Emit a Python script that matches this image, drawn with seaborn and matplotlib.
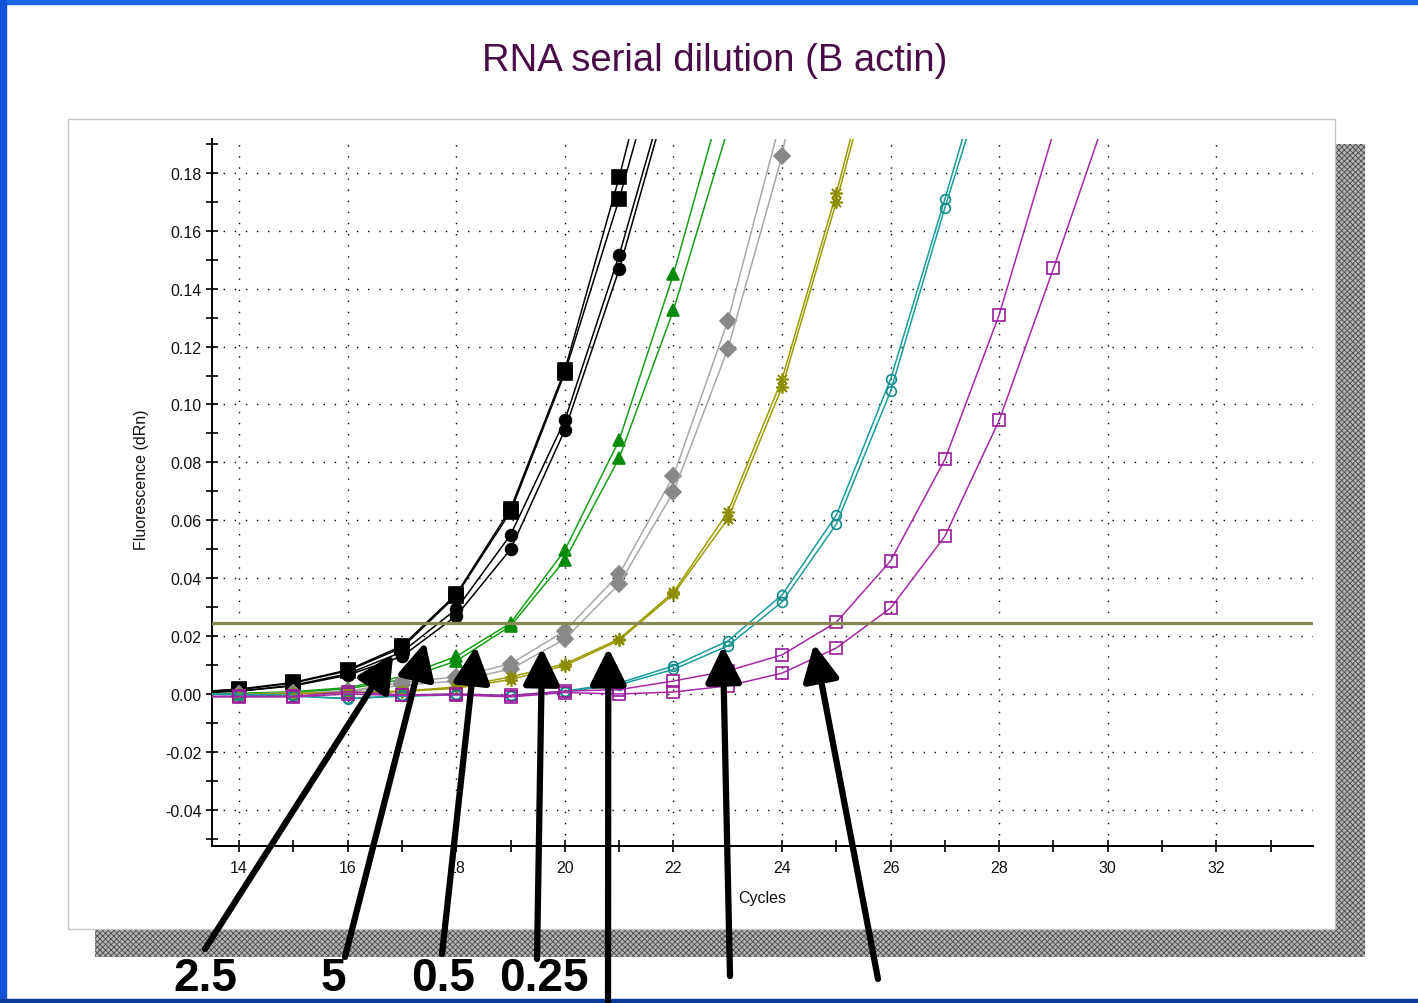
import matplotlib
matplotlib.use("Agg")
import matplotlib.pyplot as plt
import seaborn as sns
from matplotlib.patches import Rectangle
from matplotlib.ticker import MultipleLocator

# amplification curves, cycle 13 onward (last point lies above the plot top)
first_cycle = 13
black_sq_a = [0.0005, 0.0017, 0.004, 0.0083, 0.0166, 0.0345, 0.064, 0.112, 0.1785, 0.252]
black_sq_b = [0.0005, 0.0015, 0.0038, 0.008, 0.016, 0.034, 0.063, 0.111, 0.171, 0.238]
black_ci_a = [0.0003, 0.001, 0.003, 0.007, 0.0145, 0.0293, 0.055, 0.0946, 0.1516, 0.217]
black_ci_b = [0.0003, 0.001, 0.0028, 0.0065, 0.013, 0.027, 0.050, 0.0912, 0.1467, 0.213]
green_a = [0.0, 0.0002, 0.0008, 0.0022, 0.006, 0.013, 0.0245, 0.0497, 0.0877, 0.145, 0.212]
green_b = [0.0, 0.0001, 0.0005, 0.0018, 0.005, 0.0114, 0.0235, 0.0463, 0.0815, 0.1326, 0.195]
gray_a = [0.0, 0.0, 0.0003, 0.001, 0.004, 0.0059, 0.0104, 0.0218, 0.0414, 0.0753, 0.1288, 0.200, 0.31]
gray_b = [0.0, 0.0, 0.0002, 0.0008, 0.003, 0.0045, 0.0086, 0.019, 0.038, 0.0698, 0.1191, 0.1858, 0.29]
olive_a = [0.0, 0.0, 0.0002, 0.0005, 0.001, 0.0024, 0.0059, 0.0104, 0.019, 0.0352, 0.0628, 0.1088, 0.173, 0.245]
olive_b = [0.0, 0.0, 0.0001, 0.0004, 0.0008, 0.002, 0.005, 0.0098, 0.0185, 0.0345, 0.0604, 0.106, 0.170, 0.240]
teal_a = [0.0, 0.0, -0.0005, -0.0017, -0.0005, 0.0, -0.0007, 0.001, 0.0038, 0.0097, 0.0183, 0.0342, 0.0618, 0.1088, 0.171, 0.235]
teal_b = [0.0, -0.0003, -0.0008, -0.0015, -0.0008, -0.0003, -0.0005, 0.0008, 0.0032, 0.0085, 0.0166, 0.0318, 0.0587, 0.1046, 0.168, 0.228]
magenta_a = [-0.0008, -0.0008, -0.0008, 0.0008, -0.0003, 0.0, -0.0005, 0.001, 0.0015, 0.0045, 0.008, 0.0135, 0.0248, 0.046, 0.081, 0.131, 0.194, 0.28]
magenta_b = [-0.001, -0.001, -0.001, 0.0, -0.0005, -0.0003, -0.001, 0.0005, 0.0, 0.0007, 0.0028, 0.0072, 0.0159, 0.0297, 0.0545, 0.0945, 0.147, 0.2015]

threshold = 0.0245

# arrow tips (cycle, dRn) and dilution labels
arrow_tips = [(16.84, 0.0138), (17.43, 0.018), (18.36, 0.0166), (19.58, 0.0159),
              (20.80, 0.0159), (22.91, 0.0166), (24.59, 0.0173)]
dilution_labels = ["2.5", "5", "0.5", "0.25"]

W, H = 1418, 1004


def fx(x):
    return x / W


def fy(y):
    return 1 - y / H


sns.set_theme(style="white")
plt.rcParams["font.family"] = ["Liberation Sans", "DejaVu Sans"]

fig = plt.figure(figsize=(W / 100, H / 100), dpi=100)
fig.patch.set_facecolor("white")

# slide border
fig.add_artist(Rectangle((0, fy(5)), 1, 5 / H, transform=fig.transFigure, color="#1a6ae8", zorder=-5))
fig.add_artist(Rectangle((0, 0), fx(6), 1, transform=fig.transFigure, color="#1252d6", zorder=-5))
fig.add_artist(Rectangle((0, 0), 1, 4 / H, transform=fig.transFigure, color="#0a3a9a", zorder=-5))

# panel shadow + panel
plt.rcParams["hatch.linewidth"] = 0.6
for (x0, y0, x1, y1) in [(1335, 145, 1365, 958), (95, 930, 1365, 958)]:
    fig.add_artist(Rectangle((fx(x0), fy(y1)), fx(x1 - x0), (y1 - y0) / H, transform=fig.transFigure,
                             facecolor="#b4b4b4", edgecolor="#4a4a4a", hatch="xxxxxx", lw=0, zorder=-4))
fig.add_artist(Rectangle((fx(68), fy(930)), fx(1335 - 68), (930 - 120) / H, transform=fig.transFigure,
                         facecolor="white", edgecolor="#c4c4c4", lw=1.0, zorder=-3))

ax = fig.add_axes([fx(212), fy(847), fx(1313 - 212), (847 - 140) / H])
ax.set_facecolor("none")

curves = [
    (black_sq_a, "black", "black", "s", 10, "black"),
    (black_sq_b, "black", "black", "s", 10, "black"),
    (black_ci_a, "black", "black", "o", 8.5, "black"),
    (black_ci_b, "black", "black", "o", 8.5, "black"),
    (green_a, "#16a016", "#0a8a0a", "^", 8.5, "#0a8a0a"),
    (green_b, "#16a016", "#0a8a0a", "^", 8.5, "#0a8a0a"),
    (gray_a, "#a8a8a8", "#888888", "D", 8, "#888888"),
    (gray_b, "#a8a8a8", "#888888", "D", 8, "#888888"),
    (olive_a, "#9c9c00", "#8c8c00", (8, 2, 0), 9, "#8c8c00"),
    (olive_b, "#9c9c00", "#8c8c00", (8, 2, 0), 9, "#8c8c00"),
    (teal_a, "#1a9c9c", "#128a8a", "o", 7, "none"),
    (teal_b, "#1a9c9c", "#128a8a", "o", 7, "none"),
    (magenta_a, "#a628a6", "#9a1a9a", "s", 8.5, "none"),
    (magenta_b, "#a628a6", "#9a1a9a", "s", 8.5, "none"),
]

for vals, lc, mc, mk, ms, mfc in curves:
    cyc = list(range(first_cycle, first_cycle + len(vals)))
    sns.lineplot(x=cyc, y=vals, ax=ax, color=lc, lw=1.1, marker=mk, markersize=ms,
                 markerfacecolor=mfc, markeredgecolor=mc, markeredgewidth=1.2, zorder=3)

ax.axhline(threshold, color="#878755", lw=2.3, zorder=4)

ax.set_xlim(13.5, 33.78)
ax.set_ylim(-0.0525, 0.1917)
ax.xaxis.set_minor_locator(MultipleLocator(1))
ax.yaxis.set_minor_locator(MultipleLocator(0.01))
ax.set_yticks([i * 0.02 for i in range(-2, 10)])
ax.set_yticklabels([f"{i * 0.02:.2f}" for i in range(-2, 10)])
ax.set_xticks(list(range(14, 34, 2)))
ax.set_xticklabels([str(c) for c in range(14, 34, 2)])

ax.grid(True, which="major", color="black", lw=1.0, linestyle=(0, (1, 7)))
ax.tick_params(which="both", direction="inout", length=8, width=1.2, color="black",
               labelsize=11.5, labelcolor="#111111", left=True, bottom=True)
ax.tick_params(axis="x", pad=6)
for s in ["top", "right"]:
    ax.spines[s].set_visible(False)
for s in ["left", "bottom"]:
    ax.spines[s].set_color("black")
    ax.spines[s].set_linewidth(1.4)

ax.set_xlabel("Cycles", fontsize=11.5, color="#111111")
ax.set_ylabel("Fluorescence (dRn)", fontsize=11.5, color="#111111")
ax.xaxis.set_label_coords((762 - 212) / 1101, (847 - 898) / 707)
ax.xaxis.label.set_va("center")
ax.yaxis.set_label_coords((142 - 212) / 1101, (847 - 480) / 707)
ax.yaxis.label.set_va("center")

fig.text(fx(715), fy(61), "RNA serial dilution (B actin)", ha="center", va="center",
         fontsize=27.5, color="#4a0c48")

# arrows
tails = [(205, 950), (345, 958), (442, 955), (537, 960), (608, 1015), (730, 977), (878, 980)]
for (cx, cv), (tx, ty) in zip(arrow_tips, tails):
    ax.annotate("", xy=(cx, cv), xycoords="data", xytext=(tx, H - ty), textcoords="figure pixels",
                arrowprops=dict(arrowstyle="-|>,head_length=1.1,head_width=0.55", color="black",
                                lw=4.5, mutation_scale=20, shrinkA=0, shrinkB=0),
                annotation_clip=False, zorder=10)

for lab, x in zip(dilution_labels, [205, 333, 443, 544]):
    fig.text(fx(x), fy(1001), lab, ha="center", va="bottom", fontsize=33, fontweight="bold", color="black")

fig.savefig("out.png", dpi=100)
